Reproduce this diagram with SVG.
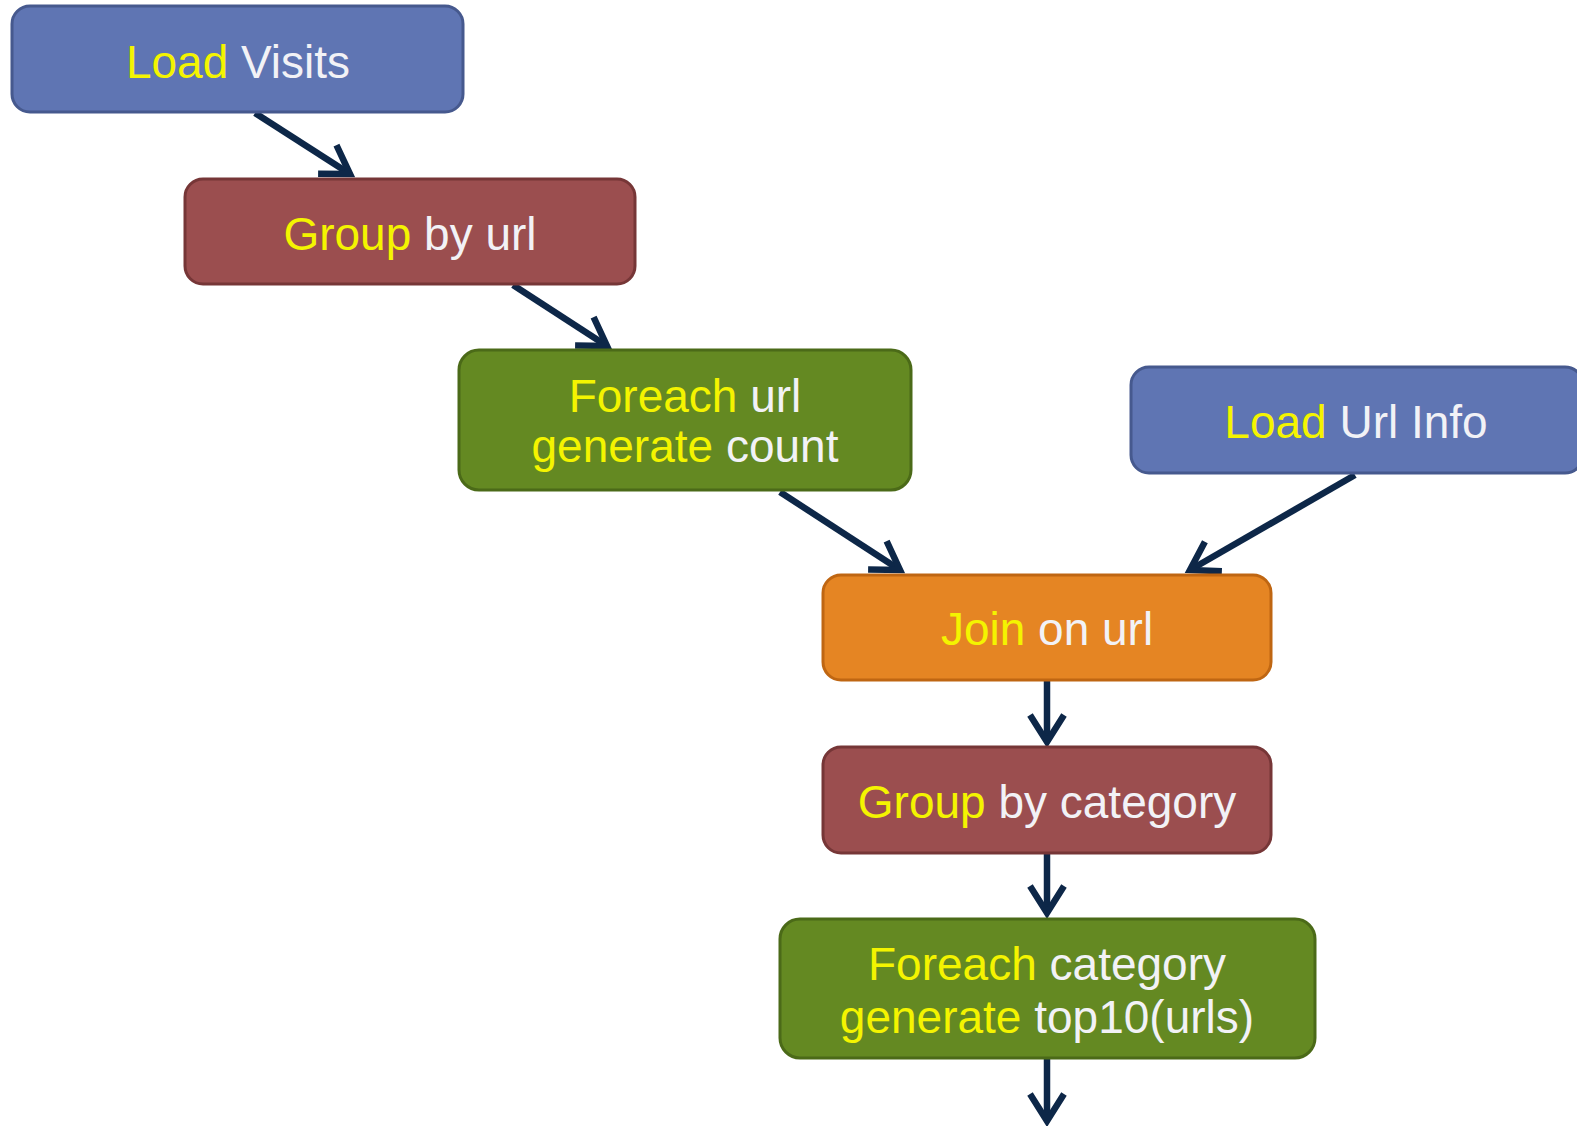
<svg xmlns="http://www.w3.org/2000/svg" width="1577" height="1126" viewBox="0 0 1577 1126">
<style>
text{font-family:"Liberation Sans",Arial,sans-serif;font-size:46px;text-anchor:middle}
.y{fill:#f4f400}
.w{fill:#f2f2f6}
.blue{fill:#5f75b3;stroke:#46598e;stroke-width:3}
.red{fill:#9b4e4f;stroke:#763637;stroke-width:3}
.green{fill:#648922;stroke:#4b6a18;stroke-width:3}
.orange{fill:#e58523;stroke:#bf6612;stroke-width:3}
.c{stroke:#0d2748;stroke-width:6.5;fill:none;marker-end:url(#ah)}
</style>
<defs>
<marker id="ah" markerUnits="userSpaceOnUse" orient="auto" overflow="visible" refX="0" refY="0" markerWidth="40" markerHeight="40">
<path d="M-27,-17 L0,0 L-27,17" fill="none" stroke="#0d2748" stroke-width="6.5" stroke-linejoin="miter" stroke-linecap="butt"/>
</marker>
</defs>
<rect width="1577" height="1126" fill="#ffffff"/>
<g id="connectors">
<line class="c" x1="255" y1="113" x2="350" y2="174"/>
<line class="c" x1="513" y1="285" x2="607" y2="346"/>
<line class="c" x1="780" y1="492" x2="900" y2="570"/>
<line class="c" x1="1355" y1="475" x2="1190" y2="570"/>
<line class="c" x1="1047" y1="681" x2="1047" y2="742"/>
<line class="c" x1="1047" y1="854" x2="1047" y2="913"/>
<line class="c" x1="1047" y1="1059" x2="1047" y2="1121"/>
</g>
<g id="load-visits">
<rect class="blue" x="12" y="6" width="451" height="106" rx="18"/>
<text x="238" y="78"><tspan class="y">Load</tspan><tspan class="w"> Visits</tspan></text>
</g>
<g id="group-by-url">
<rect class="red" x="185" y="179" width="450" height="105" rx="18"/>
<text x="410" y="250"><tspan class="y">Group</tspan><tspan class="w"> by url</tspan></text>
</g>
<g id="foreach-url">
<rect class="green" x="459" y="350" width="452" height="140" rx="20"/>
<text x="685" y="412"><tspan class="y">Foreach</tspan><tspan class="w"> url</tspan></text>
<text x="685" y="462"><tspan class="y">generate</tspan><tspan class="w"> count</tspan></text>
</g>
<g id="load-url-info">
<rect class="blue" x="1131" y="367" width="452" height="106" rx="18"/>
<text x="1356" y="438"><tspan class="y">Load</tspan><tspan class="w"> Url Info</tspan></text>
</g>
<g id="join-on-url">
<rect class="orange" x="823" y="575" width="448" height="105" rx="18"/>
<text x="1047" y="645"><tspan class="y">Join</tspan><tspan class="w"> on url</tspan></text>
</g>
<g id="group-by-category">
<rect class="red" x="823" y="747" width="448" height="106" rx="18"/>
<text x="1047" y="818"><tspan class="y">Group</tspan><tspan class="w"> by category</tspan></text>
</g>
<g id="foreach-category">
<rect class="green" x="780" y="919" width="535" height="139" rx="20"/>
<text x="1047" y="980"><tspan class="y">Foreach</tspan><tspan class="w"> category</tspan></text>
<text x="1047" y="1033"><tspan class="y">generate</tspan><tspan class="w"> top10(urls)</tspan></text>
</g>
</svg>
